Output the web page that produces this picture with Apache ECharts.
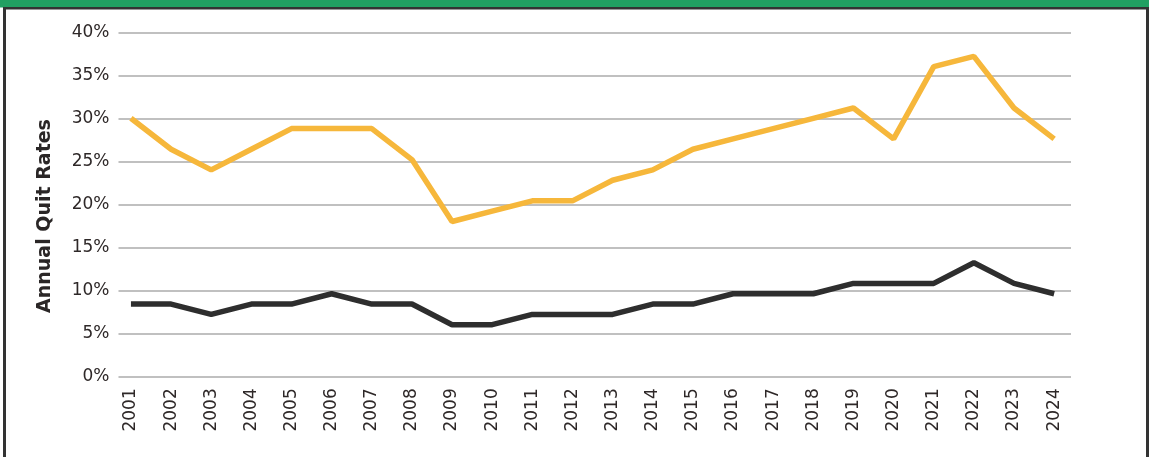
<!DOCTYPE html>
<html>
<head>
<meta charset="utf-8">
<script src="https://cdn.jsdelivr.net/npm/echarts@6/dist/echarts.min.js"></script>
<style>
html,body{margin:0;padding:0;background:#fff;}
#chart{width:1149px;height:457px;}
</style>
</head>
<body>
<div id="chart"></div>
<script>
const years = [2001,2002,2003,2004,2005,2006,2007,2008,2009,2010,2011,2012,2013,2014,2015,2016,2017,2018,2019,2020,2021,2022,2023,2024];
const yellowSeries = [30.0,26.4,24.0,26.4,28.8,28.8,28.8,25.2,18.0,19.2,20.4,20.4,22.8,24.0,26.4,27.6,28.8,30.0,31.2,27.6,36.0,37.2,31.2,27.6];
const blackSeries = [8.4,8.4,7.2,8.4,8.4,9.6,8.4,8.4,6.0,6.0,7.2,7.2,7.2,8.4,8.4,9.6,9.6,9.6,10.8,10.8,10.8,13.2,10.8,9.6];
const yTicks = [0,5,10,15,20,25,30,35,40];
const yTitle = 'Annual Quit Rates';

const chart = echarts.init(document.getElementById('chart'), null, {renderer:'canvas'});
const textColor = '#2e2828';
const font = 'DejaVu Sans';

chart.setOption({
  animation: false,
  graphic: [
    {type:'rect', shape:{x:0,y:0,width:1149,height:7.5}, style:{fill:'#21a062'}, silent:true},
    {type:'rect', shape:{x:3,y:7,width:1146,height:2.5}, style:{fill:'#333333'}, silent:true},
    {type:'rect', shape:{x:3,y:7,width:3,height:450}, style:{fill:'#333333'}, silent:true},
    {type:'rect', shape:{x:1146,y:7,width:3,height:450}, style:{fill:'#333333'}, silent:true},
    {type:'text', x:45, y:216, rotation:Math.PI/2,
     style:{text:yTitle, font:'bold 19px "DejaVu Sans"', fill:'#2a2626', align:'center', verticalAlign:'middle'},
     silent:true}
  ],
  grid: {left:118.5, right:1149-1071, top:32.3, bottom:457-376.3, containLabel:false},
  xAxis: {
    type:'value', min:2000.69, max:2024.42,
    axisLine:{show:false}, axisTick:{show:false}, splitLine:{show:false},
    axisLabel:{customValues:years, rotate:90, margin:12, color:textColor, fontFamily:font, fontSize:17,
      formatter:(v)=>String(Math.round(v))}
  },
  yAxis: {
    type:'value', min:0, max:40, interval:5,
    axisLine:{show:false}, axisTick:{show:false},
    splitLine:{show:true, lineStyle:{color:'#ababab', width:1.6}},
    axisLabel:{margin:9, color:textColor, fontFamily:font, fontSize:17, formatter:(v)=>v+'%',
      customValues:yTicks}
  },
  series: [
    {type:'line', data:years.map((y,i)=>[y,yellowSeries[i]]), showSymbol:false, symbol:'none',
     lineStyle:{color:'#f6b73b', width:5.5}, z:3},
    {type:'line', data:years.map((y,i)=>[y,blackSeries[i]]), showSymbol:false, symbol:'none',
     lineStyle:{color:'#2e2e2e', width:5.5}, z:3}
  ]
});
</script>
</body>
</html>
